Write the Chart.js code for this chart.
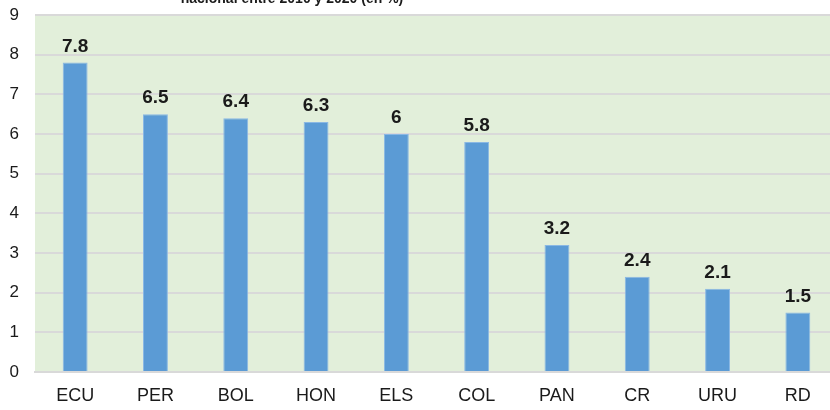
<!DOCTYPE html>
<html>
<head>
    <title>Crecimiento nacional 2010-2020</title>
    <script src="https://cdn.jsdelivr.net/npm/chart.js"></script>
    <style>
        body { margin: 0; width: 830px; height: 410px; overflow: hidden; background: #fff; }
        #wrap { position: relative; width: 842px; height: 432px; margin-top: -22px; }
    </style>
</head>
<body>
    <div id="wrap"><canvas id="growthChart" width="842" height="432"></canvas></div>
    <script>
        const countries = ['ECU', 'PER', 'BOL', 'HON', 'ELS', 'COL', 'PAN', 'CR', 'URU', 'RD'];
        const growth = [7.8, 6.5, 6.4, 6.3, 6, 5.8, 3.2, 2.4, 2.1, 1.5];
        const yTicks = [0, 1, 2, 3, 4, 5, 6, 7, 8, 9];
        const titleText = 'nacional entre 2010 y 2020 (en %)';

        const fontFamily = '"Liberation Sans", Arial, sans-serif';

        // green plot background + clipped title + value labels
        const extras = {
            id: 'extras',
            beforeDraw(chart) {
                const { ctx, chartArea: a } = chart;
                ctx.save();
                ctx.fillStyle = '#e2efda';
                ctx.fillRect(a.left, a.top, a.right - a.left, a.bottom - a.top);
                ctx.fillStyle = '#1a1a1a';
                ctx.font = 'bold 14px ' + fontFamily;
                ctx.textAlign = 'center';
                ctx.textBaseline = 'alphabetic';
                ctx.fillText(titleText, 292, 25);
                ctx.restore();
            },
            afterDatasetsDraw(chart) {
                const { ctx } = chart;
                const meta = chart.getDatasetMeta(0);
                ctx.save();
                ctx.fillStyle = '#1a1a1a';
                ctx.font = 'bold 19px ' + fontFamily;
                ctx.textAlign = 'center';
                ctx.textBaseline = 'alphabetic';
                meta.data.forEach((bar, i) => {
                    ctx.fillText(String(growth[i]), bar.x, bar.y - 11);
                });
                ctx.restore();
            }
        };

        const ctx = document.getElementById('growthChart').getContext('2d');
        new Chart(ctx, {
            type: 'bar',
            data: {
                labels: countries,
                datasets: [{
                    data: growth,
                    backgroundColor: '#5b9bd5',
                    borderColor: '#8ab8e4',
                    borderWidth: 1,
                    barPercentage: 0.62,
                    categoryPercentage: 0.5
                }]
            },
            options: {
                responsive: false,
                animation: false,
                layout: { padding: { top: 37, right: 4, left: 0, bottom: 0 } },
                plugins: {
                    legend: { display: false },
                    tooltip: { enabled: false }
                },
                scales: {
                    x: {
                        grid: { display: false },
                        border: { display: true, color: '#d9d9d9', width: 2 },
                        ticks: { color: '#1a1a1a', font: { family: fontFamily, size: 18 }, padding: 5 },
                        afterFit(scale) { scale.height = 38; }
                    },
                    y: {
                        min: 0,
                        max: 9,
                        afterBuildTicks(scale) { scale.ticks = yTicks.map(v => ({ value: v })); },
                        grid: { color: '#d9d9d9', lineWidth: 2, drawTicks: false },
                        border: { display: false },
                        ticks: { color: '#1a1a1a', font: { family: fontFamily, size: 17 }, padding: 16 },
                        afterFit(scale) { scale.width = 35; }
                    }
                }
            },
            plugins: [extras]
        });
    </script>
</body>
</html>
